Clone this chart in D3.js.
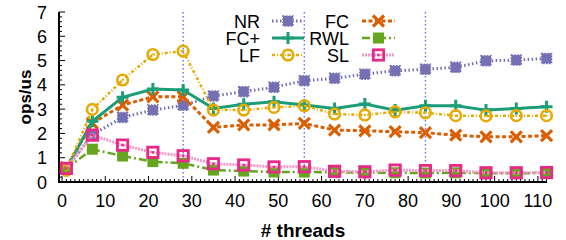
<!DOCTYPE html>
<html><head><meta charset="utf-8">
<script src="https://cdn.jsdelivr.net/npm/d3@7"></script>
<style>body{margin:0;background:#fff}svg{display:block}text{font-family:"Liberation Sans",Arial,sans-serif}</style>
</head><body><svg id="c" width="566" height="240"></svg>
<script>
const threads = [1,7,14,21,28,35,42,49,56,63,70,77,84,91,98,105,112];
const seriesNames = ["NR","FC","FC+","RWL","LF","SL"];
const NR  = [0.55,1.95,2.66,2.96,3.16,3.54,3.72,3.90,4.17,4.27,4.44,4.58,4.64,4.72,4.99,5.02,5.09];
const FC  = [0.60,2.42,3.17,3.51,3.51,2.25,2.35,2.35,2.41,2.14,2.11,2.07,2.03,1.93,1.86,1.86,1.91];
const FCp = [0.55,2.50,3.49,3.83,3.79,3.03,3.20,3.30,3.17,3.03,3.21,2.96,3.14,3.14,2.96,3.03,3.10];
const RWL = [0.55,1.35,1.07,0.84,0.77,0.49,0.45,0.41,0.41,0.40,0.39,0.38,0.37,0.38,0.36,0.36,0.37];
const LF  = [0.48,2.99,4.20,5.25,5.39,2.96,2.96,3.07,3.14,2.80,2.76,2.89,2.85,2.73,2.72,2.73,2.73];
const SL  = [0.56,1.93,1.52,1.22,1.08,0.75,0.70,0.62,0.63,0.44,0.42,0.49,0.47,0.47,0.38,0.38,0.39];
const xTicks = [0,10,20,30,40,50,60,70,80,90,100,110];
const yTicks = [0,1,2,3,4,5,6,7];
const socketLines = [28,56,84];

const svg = d3.select("#c");
const x = d3.scaleLinear().domain([-0.7,112.1]).range([59,547]);
const y = d3.scaleLinear().domain([0,7]).range([182,12]);

const styles = {
  "NR":  {c:"#7570b3", w:3, dash:"1.5,2.5", m:"nrsq"},
  "FC":  {c:"#d95f02", w:3, dash:"4,2.5", m:"x"},
  "FC+": {c:"#1b9e77", w:3, dash:null, m:"plus"},
  "RWL": {c:"#66a61e", w:2.5, dash:"8,3,2,3", m:"fsq"},
  "LF":  {c:"#e6ab02", w:2.5, dash:"3,2,1,2", m:"circ"},
  "SL":  {c:"#e7298a", w:3, dash:"2,1", m:"osq", lc:"#f29ac5"}
};
const data = {"NR":NR,"FC":FC,"FC+":FCp,"RWL":RWL,"LF":LF,"SL":SL};

// vertical socket lines
svg.selectAll("line.sock").data(socketLines).enter().append("line")
  .attr("x1",d=>x(d)).attr("x2",d=>x(d)).attr("y1",y(7)).attr("y2",y(0))
  .attr("stroke","#6b6bff").attr("stroke-width",1.4).attr("stroke-dasharray","1.5,2.5");

// axes
const xMinor = d3.range(0,113,1);
const yMinor = d3.range(0,7.01,0.2);
const ax = svg.append("g");
ax.selectAll("line.xm").data(xMinor).enter().append("line")
  .attr("x1",d=>x(d)).attr("x2",d=>x(d)).attr("y1",y(0)).attr("y2",d=> d%10===0? y(0)-6 : y(0)-3)
  .attr("stroke","#000").attr("stroke-width",1);
ax.selectAll("line.ym").data(yMinor).enter().append("line")
  .attr("y1",d=>y(d)).attr("y2",d=>y(d)).attr("x1",x(-0.7)).attr("x2",d=> Math.abs(d-Math.round(d))<1e-6? x(-0.7)+6 : x(-0.7)+3)
  .attr("stroke","#000").attr("stroke-width",1);
ax.append("path").attr("d",`M${x(-0.7)},${y(7)}V${y(0)}H${x(112.1)}`)
  .attr("fill","none").attr("stroke","#000").attr("stroke-width",2);
ax.selectAll("text.xt").data(xTicks).enter().append("text")
  .attr("x",d=>x(d)).attr("y",207).attr("text-anchor","middle").attr("font-size",18).text(d=>d);
ax.selectAll("text.yt").data(yTicks).enter().append("text")
  .attr("x",47).attr("y",d=>y(d)+6.5).attr("text-anchor","end").attr("font-size",18).text(d=>d);
svg.append("text").attr("transform","translate(31,97) rotate(-90)").attr("text-anchor","middle")
  .attr("font-size",17).attr("font-weight","bold").text("ops/us");
svg.append("text").attr("x",303).attr("y",237).attr("text-anchor","middle")
  .attr("font-size",19).attr("font-weight","bold").text("# threads");

function marker(g, kind, c, cx, cy){
  if(kind==="nrsq"){
    g.append("rect").attr("x",cx-5).attr("y",cy-5).attr("width",10).attr("height",10).attr("fill",c)
     .attr("stroke",c).attr("stroke-width",1.5).attr("stroke-dasharray","1.5,1.5");
  } else if(kind==="x"){
    g.append("path").attr("d",`M${cx-5.5},${cy-5.5}L${cx+5.5},${cy+5.5}M${cx-5.5},${cy+5.5}L${cx+5.5},${cy-5.5}`)
     .attr("stroke",c).attr("stroke-width",3.2).attr("fill","none");
  } else if(kind==="plus"){
    g.append("path").attr("d",`M${cx-6},${cy}H${cx+6}M${cx},${cy-6}V${cy+6}`)
     .attr("stroke",c).attr("stroke-width",3).attr("fill","none");
  } else if(kind==="fsq"){
    g.append("rect").attr("x",cx-5.5).attr("y",cy-5.5).attr("width",11).attr("height",11).attr("fill",c);
  } else if(kind==="circ"){
    g.append("circle").attr("cx",cx).attr("cy",cy).attr("r",5.3).attr("fill","none").attr("stroke",c).attr("stroke-width",2.6);
    g.append("circle").attr("cx",cx).attr("cy",cy).attr("r",1).attr("fill",c);
  } else if(kind==="osq"){
    g.append("rect").attr("x",cx-5.2).attr("y",cy-5.2).attr("width",10.4).attr("height",10.4).attr("fill","none").attr("stroke",c).attr("stroke-width",2.8);
    g.append("rect").attr("x",cx-1.2).attr("y",cy-1.2).attr("width",2.4).attr("height",2.4).attr("fill",c);
  }
}

const line = d3.line().x((d,i)=>x(threads[i])).y(d=>y(d));
seriesNames.forEach(n=>{
  const s = styles[n], g = svg.append("g");
  g.append("path").attr("d",line(data[n])).attr("fill","none").attr("stroke",s.lc||s.c)
   .attr("stroke-width",s.w).attr("stroke-dasharray",s.dash);
  data[n].forEach((v,i)=>marker(g,s.m,s.c,x(threads[i]),y(v)));
});

// legend
const legendPos = {"NR":[0,0],"FC":[1,0],"FC+":[0,1],"RWL":[1,1],"LF":[0,2],"SL":[1,2]};
const colText = [260,349], colLine = [[272,304],[362,395]], rowY = [21,38,55];
seriesNames.forEach(n=>{
  const s = styles[n], [c,r] = legendPos[n], g = svg.append("g"), yy = rowY[r];
  g.append("text").attr("x",colText[c]).attr("y",yy+6.5).attr("text-anchor","end").attr("font-size",18).text(n);
  g.append("line").attr("x1",colLine[c][0]).attr("x2",colLine[c][1]).attr("y1",yy).attr("y2",yy)
   .attr("stroke",s.lc||s.c).attr("stroke-width",s.w).attr("stroke-dasharray",s.dash);
  marker(g,s.m,s.c,(colLine[c][0]+colLine[c][1])/2,yy);
});
</script></body></html>
